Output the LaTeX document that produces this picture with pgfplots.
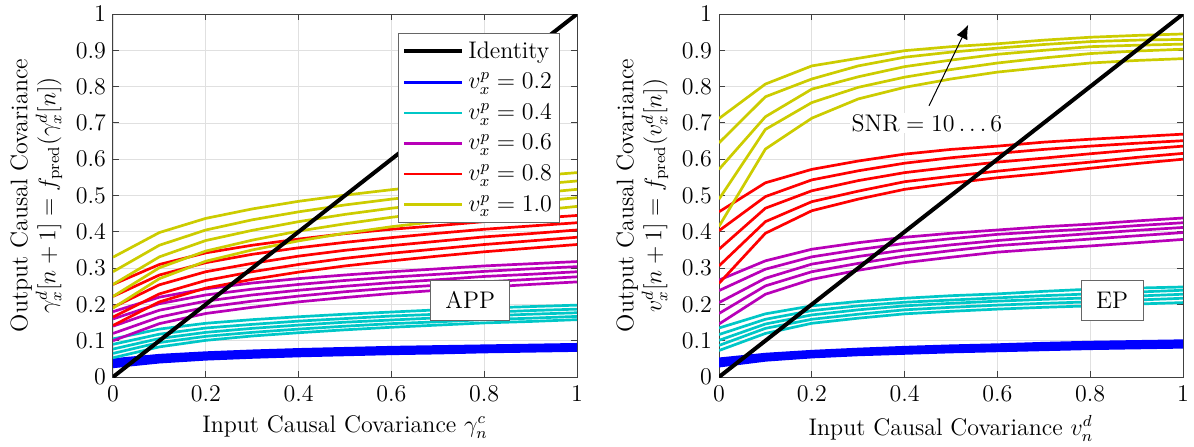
\documentclass[border=0pt]{standalone}
\usepackage{pgfplots}
\pgfplotsset{compat=1.18}
\usepackage{pgfplotstable}
\usetikzlibrary{arrows.meta}
\definecolor{mcyan}{rgb}{0,0.78,0.78}
\definecolor{mmag}{rgb}{0.72,0,0.72}
\definecolor{myel}{rgb}{0.8,0.8,0}
\definecolor{mblue}{rgb}{0,0,1}
\definecolor{mred}{rgb}{1,0,0}

\pgfplotstableread{
x   B1 B2 B3 B4 B5   C1 C2 C3 C4 C5   P1 P2 P3 P4 P5   R1 R2 R3 R4 R5   Y1 Y2 Y3 Y4 Y5
0.0 .048 .043 .038 .033 .028  .105 .090 .077 .065 .053  .180 .160 .140 .120 .100  .255 .222 .192 .165 .142  .330 .290 .255 .222 .190
0.1 .060 .055 .051 .046 .041  .132 .118 .106 .095 .083  .220 .202 .184 .165 .147  .310 .281 .254 .229 .207  .398 .363 .331 .301 .271
0.2 .067 .063 .058 .053 .049  .148 .135 .123 .112 .101  .243 .226 .209 .192 .175  .342 .315 .290 .266 .245  .437 .405 .376 .347 .319
0.3 .072 .068 .063 .058 .054  .158 .145 .134 .123 .113  .259 .242 .226 .209 .192  .363 .338 .313 .290 .269  .463 .433 .404 .377 .350
0.4 .076 .071 .067 .062 .058  .166 .154 .143 .132 .122  .271 .255 .239 .223 .207  .380 .356 .333 .310 .289  .484 .455 .428 .402 .375
0.5 .079 .075 .070 .065 .061  .173 .161 .151 .140 .130  .281 .266 .250 .235 .219  .395 .371 .349 .327 .306  .501 .474 .448 .422 .396
0.6 .082 .077 .073 .068 .064  .179 .168 .157 .147 .137  .290 .275 .260 .245 .230  .407 .384 .362 .341 .320  .516 .490 .465 .440 .414
0.7 .084 .080 .076 .071 .066  .185 .173 .163 .152 .143  .298 .283 .268 .253 .239  .417 .396 .374 .353 .333  .529 .504 .479 .455 .429
0.8 .086 .082 .078 .073 .069  .190 .178 .168 .158 .149  .306 .291 .277 .262 .247  .428 .407 .386 .365 .345  .542 .518 .493 .470 .445
0.9 .088 .084 .080 .075 .071  .194 .183 .173 .162 .153  .312 .298 .283 .269 .255  .436 .416 .395 .375 .355  .553 .529 .505 .482 .457
1.0 .090 .086 .082 .077 .073  .198 .187 .177 .167 .158  .318 .304 .290 .276 .262  .445 .425 .405 .385 .365  .563 .540 .517 .494 .470
}\tblL

\pgfplotstableread{
x   B1 B2 B3 B4 B5   C1 C2 C3 C4 C5   P1 P2 P3 P4 P5   R1 R2 R3 R4 R5   Y1 Y2 Y3 Y4 Y5
0.0 .050 .045 .040 .035 .030  .135 .117 .101 .087 .073  .267 .238 .205 .175 .146  .455 .403 .352 .306 .258  .712 .645 .572 .490 .415
0.1 .063 .059 .055 .050 .046  .174 .159 .146 .134 .120  .320 .297 .272 .251 .228  .535 .497 .465 .428 .396  .807 .772 .717 .682 .628
0.2 .071 .067 .063 .059 .055  .196 .183 .171 .159 .148  .352 .331 .311 .290 .269  .572 .543 .513 .483 .458  .857 .821 .793 .756 .713
0.3 .077 .073 .069 .065 .061  .208 .196 .185 .173 .162  .370 .351 .332 .313 .294  .595 .568 .541 .512 .490  .878 .857 .827 .798 .766
0.4 .082 .077 .073 .069 .065  .217 .206 .196 .185 .174  .385 .368 .350 .333 .315  .614 .589 .563 .538 .517  .899 .881 .855 .826 .798
0.5 .086 .081 .077 .073 .069  .224 .212 .203 .192 .181  .396 .381 .364 .348 .330  .627 .604 .578 .553 .534  .910 .895 .873 .847 .821
0.6 .089 .084 .080 .076 .072  .229 .218 .209 .198 .187  .405 .393 .376 .362 .344  .636 .616 .592 .567 .549  .918 .906 .889 .865 .840
0.7 .093 .088 .083 .079 .075  .236 .224 .214 .203 .192  .414 .401 .386 .371 .353  .647 .627 .603 .580 .561  .928 .916 .900 .879 .853
0.8 .096 .091 .086 .082 .078  .242 .229 .218 .207 .196  .421 .408 .395 .380 .361  .655 .636 .615 .592 .575  .936 .924 .910 .891 .865
0.9 .098 .093 .088 .084 .080  .245 .234 .223 .212 .201  .430 .417 .404 .389 .370  .662 .644 .626 .605 .588  .941 .928 .914 .898 .872
1.0 .100 .095 .090 .086 .082  .248 .239 .228 .217 .205  .438 .425 .412 .398 .379  .669 .651 .636 .616 .600  .945 .930 .917 .903 .877
}\tblR

\pgfplotsset{
  panel/.style={
    scale only axis, width=232pt, height=181.5pt,
    xmin=0, xmax=1, ymin=0, ymax=1,
    xtick={0,0.2,0.4,0.6,0.8,1},
    ytick={0,0.1,0.2,0.3,0.4,0.5,0.6,0.7,0.8,0.9,1},
    grid=major, grid style={black!12, line width=0.4pt},
    axis line style={black!75, line width=0.5pt},
    tick style={black!75, line width=0.5pt},
    tick align=inside, major tick length=3pt,
    ylabel style={align=center, font=\large},
    xlabel style={font=\large},
    tick label style={font=\large},
    xticklabel style={yshift=-1pt},
  },
  cl/.style={line width=1.35pt, no markers},
}

\begin{document}
\begin{tikzpicture}
\useasboundingbox (-56.5pt,-34.5pt) rectangle (540.5pt,188.5pt);
\begin{axis}[panel,
  at={(0,0)}, anchor=south west,
  xlabel={Input Causal Covariance $\gamma_n^c$},
  ylabel={Output Causal Covariance\\ $\gamma_x^d[n+1] = f_{\mathrm{pred}}(\gamma_x^d[n])$},
  legend style={at={(0.614,0.948)}, anchor=north west, draw=black!60, fill=white,
    font=\large, row sep=2pt, inner sep=2pt, line width=0.5pt},
  legend cell align=left,
  legend image code/.code={\draw[#1] (0pt,0pt) -- (29pt,0pt);},
]
\addlegendimage{black, line width=2pt}
\addlegendentry{Identity}
\addlegendimage{mblue, line width=1.35pt}
\addlegendentry{$v_x^p = 0.2$}
\addlegendimage{mcyan, line width=1.35pt}
\addlegendentry{$v_x^p = 0.4$}
\addlegendimage{mmag, line width=1.35pt}
\addlegendentry{$v_x^p = 0.6$}
\addlegendimage{mred, line width=1.35pt}
\addlegendentry{$v_x^p = 0.8$}
\addlegendimage{myel, line width=1.35pt}
\addlegendentry{$v_x^p = 1.0$}
\pgfplotsinvokeforeach{1,...,5}{
  \addplot[mblue, cl, forget plot] table[x=x, y=B#1] {\tblL};
  \addplot[mcyan, cl, forget plot] table[x=x, y=C#1] {\tblL};
  \addplot[mmag, cl, forget plot] table[x=x, y=P#1] {\tblL};
  \addplot[mred, cl, forget plot] table[x=x, y=R#1] {\tblL};
  \addplot[myel, cl, forget plot] table[x=x, y=Y#1] {\tblL};
}
\addplot[black, line width=2pt, forget plot] coordinates {(0,0) (1,1)};
\node[draw=black!60, fill=white, line width=0.5pt, minimum width=39.5pt, minimum height=20pt, inner sep=1pt, font=\large]
  at (axis cs:0.77,0.212) {APP};
\end{axis}

\begin{axis}[panel,
  at={(303pt,0)}, anchor=south west,
  xlabel={Input Causal Covariance $v_n^d$},
  ylabel={Output Causal Covariance\\ $v_x^d[n+1] = f_{\mathrm{pred}}(v_x^d[n])$},
]
\pgfplotsinvokeforeach{1,...,5}{
  \addplot[mblue, cl, forget plot] table[x=x, y=B#1] {\tblR};
  \addplot[mcyan, cl, forget plot] table[x=x, y=C#1] {\tblR};
  \addplot[mmag, cl, forget plot] table[x=x, y=P#1] {\tblR};
  \addplot[mred, cl, forget plot] table[x=x, y=R#1] {\tblR};
  \addplot[myel, cl, forget plot] table[x=x, y=Y#1] {\tblR};
}
\addplot[black, line width=2pt, forget plot] coordinates {(0,0) (1,1)};
\node[draw=black!60, fill=white, line width=0.5pt, minimum width=31pt, minimum height=20pt, inner sep=1pt, font=\large]
  at (axis cs:0.847,0.212) {EP};
\draw[line width=0.5pt, -{Latex[length=7pt,width=6pt]}] (axis cs:0.4526,0.747) -- (axis cs:0.537,0.970);
\node[fill=white, inner sep=1pt, font=\large] at (axis cs:0.448,0.70) {$\mathrm{SNR} = 10\ldots6$};
\end{axis}
\end{tikzpicture}
\end{document}
